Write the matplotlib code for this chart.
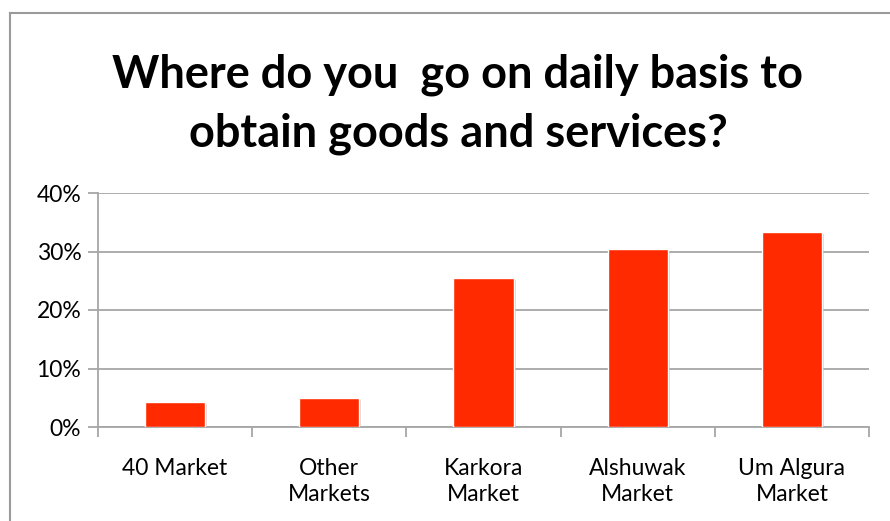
import matplotlib
matplotlib.use("Agg")

import matplotlib.pyplot as plt
import matplotlib.patheffects as pe
from matplotlib.lines import Line2D
from matplotlib.ticker import FixedLocator, PercentFormatter

categories = ["40 Market", "Other\nMarkets", "Karkora\nMarket", "Alshuwak\nMarket", "Um Algura\nMarket"]
shares = [4.3, 5.0, 25.4, 30.4, 33.4]          # percent of respondents
y_ticks = [0, 10, 20, 30, 40]
title = "Where do you  go on daily basis to\nobtain goods and services?"

BAR_RED = "#ff2a00"
GRID = "#a6a6a6"

plt.rcParams["font.family"] = ["Lato", "DejaVu Sans"]

fig = plt.figure(figsize=(8.9, 5.21), dpi=100)
ax = fig.add_axes([98 / 890, 94 / 521, 771 / 890, 234 / 521])

x = range(len(categories))
ax.bar(x, shares, width=0.39, color=BAR_RED, edgecolor="white", linewidth=1.0, zorder=3,
       path_effects=[pe.SimplePatchShadow(offset=(1.5, -1.5), shadow_rgbFace="#b0b0b0", alpha=0.5),
                     pe.Normal()])

ax.set_xlim(-0.5, len(categories) - 0.5)
ax.set_ylim(0, 40)
ax.yaxis.set_major_locator(FixedLocator(y_ticks))
ax.yaxis.set_major_formatter(PercentFormatter(decimals=0))
ax.grid(axis="y", color=GRID, linewidth=1.3, zorder=0)

# category labels centred under bars, tick marks on the boundaries between them
ax.set_xticks(list(x))
ax.set_xticklabels(categories, fontsize=16.5, linespacing=1.3)
ax.tick_params(axis="x", which="major", length=0, pad=22)
ax.xaxis.set_minor_locator(FixedLocator([i - 0.5 for i in range(len(categories) + 1)]))
ax.tick_params(axis="x", which="minor", length=7, width=1.3, color=GRID)
ax.tick_params(axis="y", length=7, width=1.3, color=GRID, labelsize=16.5, pad=5)

for side in ("top", "right"):
    ax.spines[side].set_visible(False)
for side in ("left", "bottom"):
    ax.spines[side].set_color(GRID)
    ax.spines[side].set_linewidth(1.3)

fig.text(458 / 890, 1 - 104 / 521, title, ha="center", va="center",
         fontsize=32.5, fontweight="bold", linespacing=1.5)

# chart-area frame (left and top edges)
fig.add_artist(Line2D([10 / 890, 10 / 890], [0, 1 - 13 / 521], color="#9a9a9a", linewidth=1.5))
fig.add_artist(Line2D([10 / 890, 1], [1 - 13 / 521, 1 - 13 / 521], color="#9a9a9a", linewidth=1.5))

fig.savefig("out.png", dpi=100)
